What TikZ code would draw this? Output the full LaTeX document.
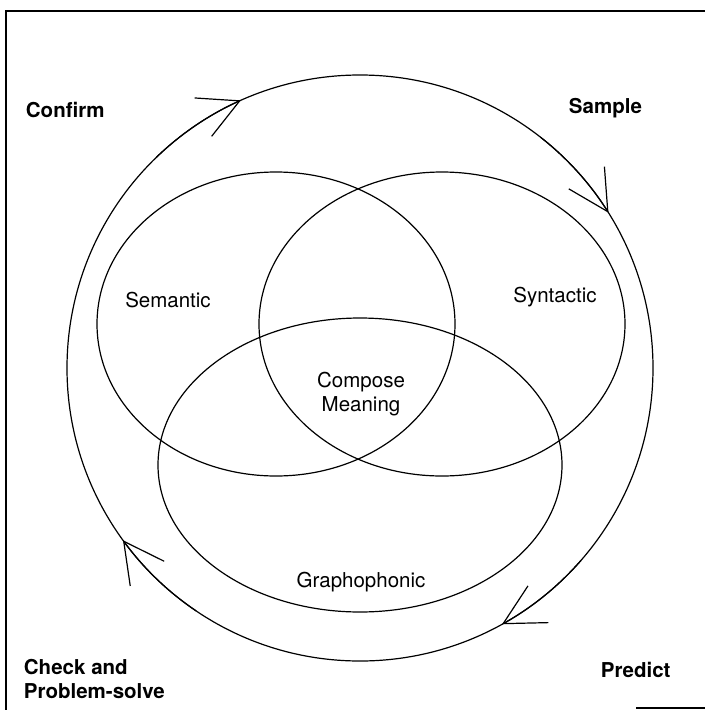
\documentclass[tikz,border=0pt]{standalone}
\usepackage{fontspec}
\setmainfont{TeX Gyre Heros}
\usetikzlibrary{shapes.geometric,arrows.meta}
\begin{document}
\begin{tikzpicture}[x=1pt,y=1pt,line width=1.2pt]
\tikzstyle{every node}=[font=\fontsize{20.5}{24}\selectfont]
\tikzstyle{ring}=[draw,inner sep=0pt,outer sep=0pt]
\tikzstyle{stage}=[font=\fontsize{20.5}{24}\selectfont\bfseries,anchor=west,align=left]
\tikzstyle{cue}=[-{Straight Barb[length=40pt,width=42pt]}]
\useasboundingbox (0,0) rectangle (705,-710);
% frame
\draw[line width=2pt] (6,-710) |- (705,-11);
\draw[line width=2pt] (636,-708) -- (705,-708);
% cycle and cue systems
\node[ring,circle,minimum size=586pt](cycle) at (360,-368) {};
\node[ring,ellipse,minimum width=358pt,minimum height=304pt](sem) at (276,-324) {};
\node[ring,ellipse,minimum width=366pt,minimum height=304pt](syn) at (442,-324) {};
\node[ring,ellipse,minimum width=404pt,minimum height=294pt](gra) at (360,-465) {};
\node(semtxt) at (168,-300) {Semantic};
\node(syntxt) at (555,-297) {Syntactic};
\node[align=center](mean) at (361,-394) {Compose\\Meaning};
\node(gratxt) at (361,-582) {Graphophonic};
% strategies
\node[stage](confirm) at (22,-110) {Confirm};
\node[stage](sample) at (565,-108) {Sample};
\node[stage](predict) at (597,-670) {Predict};
\node[stage](check) at (20,-679) {Check and\\Problem-solve};
% arrows round the cycle
\draw[cue] (cycle.134) arc[start angle=134,end angle=114,radius=293];
\draw[cue] (cycle.52) arc[start angle=52,end angle=32,radius=293];
\draw[cue] (cycle.-41) arc[start angle=-41,end angle=-61,radius=293];
\draw[cue] (cycle.236) arc[start angle=236,end angle=216,radius=293];
\end{tikzpicture}
\end{document}
